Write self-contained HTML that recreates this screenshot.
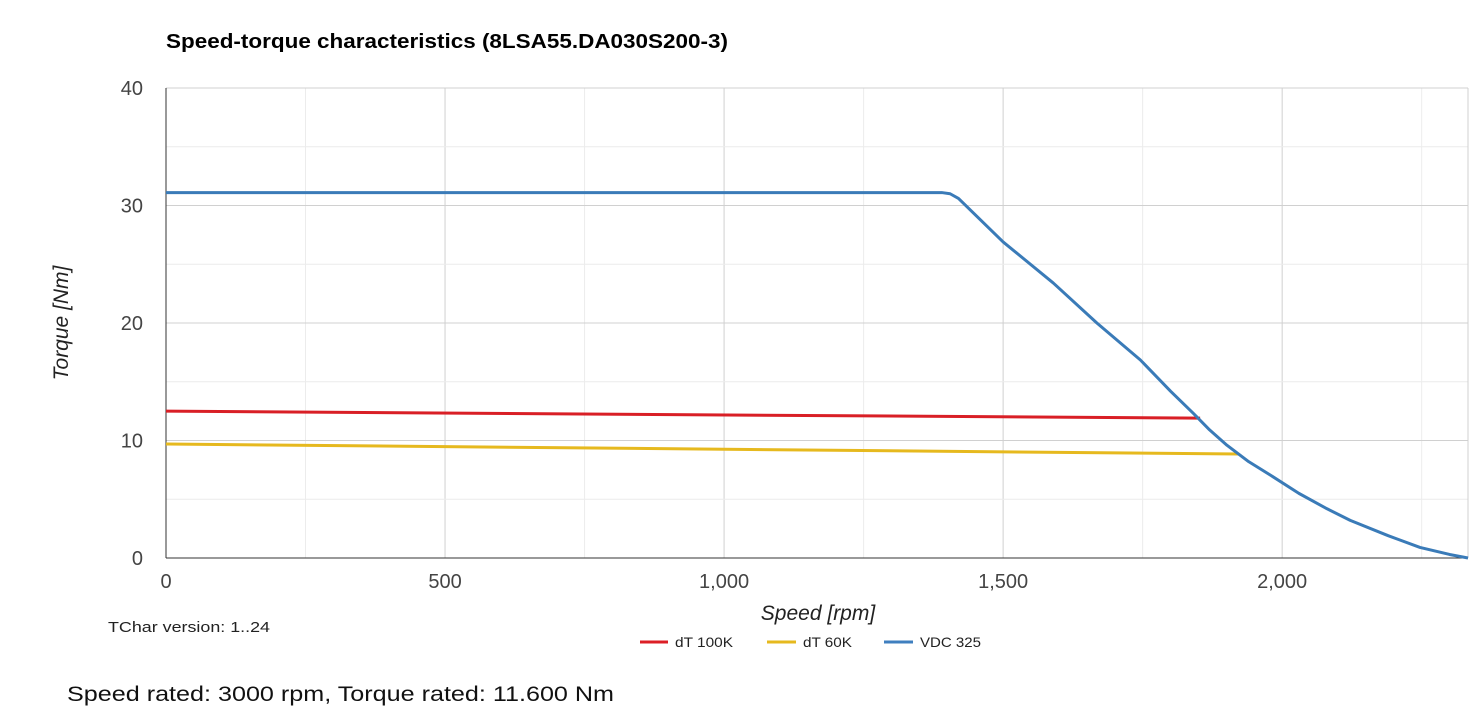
<!DOCTYPE html>
<html><head><meta charset="utf-8"><style>
body{margin:0;background:#fff;width:1476px;height:719px;overflow:hidden;font-family:"Liberation Sans",sans-serif}
</style></head><body>
<svg id="c" width="1476" height="719">
<text x="166" y="48" font-size="20" font-weight="bold" fill="#000" textLength="562" lengthAdjust="spacingAndGlyphs">Speed-torque characteristics (8LSA55.DA030S200-3)</text>
<g id="grid"></g><g id="series"></g>
<text x="818" y="620" font-size="21" font-style="italic" text-anchor="middle" fill="#222">Speed [rpm]</text>
<text transform="translate(68,323) rotate(-90)" font-size="21" font-style="italic" text-anchor="middle" fill="#222">Torque [Nm]</text>
<text x="108" y="632" font-size="15" fill="#222" textLength="162" lengthAdjust="spacingAndGlyphs">TChar version: 1..24</text>
<g font-size="14" fill="#222">
<g><line x1="640" y1="642" x2="668" y2="642" stroke="#dc1f26" stroke-width="3"/><text x="675" y="647" textLength="58" lengthAdjust="spacingAndGlyphs">dT 100K</text></g>
<g><line x1="767" y1="642" x2="796" y2="642" stroke="#e6b91e" stroke-width="3"/><text x="803" y="647" textLength="49" lengthAdjust="spacingAndGlyphs">dT 60K</text></g>
<g><line x1="884" y1="642" x2="913" y2="642" stroke="#3f7fbf" stroke-width="3"/><text x="920" y="647" textLength="61" lengthAdjust="spacingAndGlyphs">VDC 325</text></g>
</g>
<text x="67" y="701" font-size="21" fill="#111" textLength="547" lengthAdjust="spacingAndGlyphs">Speed rated: 3000 rpm, Torque rated: 11.600 Nm</text>
</svg>
<script>
const xTicks=[0,500,1000,1500,2000];
const xTickLabels=["0","500","1,000","1,500","2,000"];
const yTicks=[0,10,20,30,40];
const redX=[0,1853];
const redY=[12.5,11.9];
const yelX=[0,1921];
const yelY=[9.7,8.85];
const blueX=[0,1390,1405,1420,1500,1590,1668,1746,1800,1841,1870,1901,1940,1984,2030,2080,2122,2190,2247,2300,2333];
const blueY=[31.1,31.1,31.0,30.6,26.9,23.4,20.0,16.85,14.2,12.3,10.9,9.6,8.2,6.9,5.5,4.2,3.2,1.9,0.9,0.3,0];
const X0=166,X1=1468,XMAX=2333,Y0=558,Y1=88,YMAX=40;
const sx=v=>X0+(X1-X0)*v/XMAX, sy=v=>Y0-(Y0-Y1)*v/YMAX;
const NS="http://www.w3.org/2000/svg";
function mk(t,a,p){const e=document.createElementNS(NS,t);for(const k in a)e.setAttribute(k,a[k]);p.appendChild(e);return e;}
const g=document.getElementById('grid');
for(let v=250;v<XMAX;v+=250){const l=mk('line',{x1:sx(v),x2:sx(v),y1:Y1,y2:Y0,stroke:v%500?'#ececec':'#d0d0d0'},g);

}
for(let v=5;v<=YMAX;v+=5){const l=mk('line',{x1:X0,x2:X1,y1:sy(v),y2:sy(v),stroke:v%10?'#ececec':'#d0d0d0'},g);

}
mk('line',{x1:X1,x2:X1,y1:Y1,y2:Y0,stroke:'#d0d0d0'},g);
const ax=mk('line',{x1:X0,x2:X0,y1:Y1,y2:Y0,stroke:'#333'},g);


const bx=mk('line',{x1:X0,x2:X1,y1:Y0,y2:Y0,stroke:'#333'},g);


xTicks.forEach((v,i)=>{const t=mk('text',{x:sx(v),y:588,'text-anchor':'middle','font-size':20,fill:'#444'},g);t.textContent=xTickLabels[i];

});
yTicks.forEach(v=>{const t=mk('text',{x:143,y:sy(v)+7,'text-anchor':'end','font-size':20,fill:'#444'},g);t.textContent=v;

});
const s=document.getElementById('series');
function line(xs,ys,c,n){const p=mk('polyline',{points:xs.map((x,i)=>sx(x)+','+sy(ys[i])).join(' '),fill:'none',stroke:c,'stroke-width':3,'stroke-linejoin':'round'},s);

}
line(redX,redY,'#d91f26','series-dt100k');
line(yelX,yelY,'#e6b91e','series-dt60k');
line(blueX,blueY,'#3a7bb8','series-vdc325');
</script>
</body></html>
